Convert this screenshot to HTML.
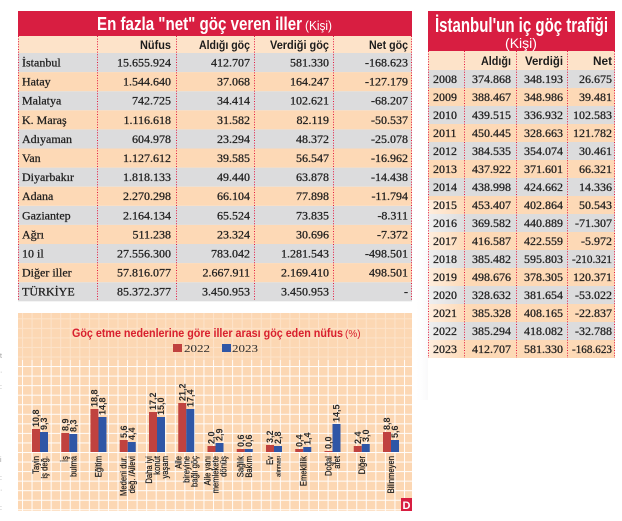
<!DOCTYPE html>
<html><head><meta charset="utf-8">
<style>
html,body{margin:0;padding:0;background:#fff;}
svg{display:block;}
.s{font-family:"Liberation Serif",serif;font-size:12px;fill:#1c1c1c;stroke:#1c1c1c;stroke-width:0.25px;}
.h{font-family:"Liberation Sans",sans-serif;font-weight:bold;font-size:12px;fill:#1c1c1c;}
.v{font-family:"Liberation Sans",sans-serif;font-weight:bold;font-size:9px;fill:#2a2a2a;}
.c{font-family:"Liberation Sans",sans-serif;font-size:9px;fill:#1a1a1a;stroke:#1a1a1a;stroke-width:0.2px;}
</style></head>
<body>
<svg width="622" height="521" viewBox="0 0 622 521" xmlns="http://www.w3.org/2000/svg">
<defs>
<pattern id="g" patternUnits="userSpaceOnUse" x="22" y="452" width="9.55" height="9.55">
<rect x="0" y="0" width="9.55" height="1" fill="#fff"/>
<rect x="0" y="0" width="1" height="9.55" fill="#fff"/>
</pattern>
<linearGradient id="glare" x1="0" y1="0" x2="1" y2="0">
<stop offset="0" stop-color="#fff" stop-opacity="0.55"/>
<stop offset="1" stop-color="#fff" stop-opacity="0"/>
</linearGradient>
<linearGradient id="sh" x1="0" y1="0" x2="1" y2="0">
<stop offset="0" stop-color="#fff" stop-opacity="0"/>
<stop offset="1" stop-color="#e8e8ec" stop-opacity="1"/>
</linearGradient>
</defs>

<!-- ============ LEFT TABLE ============ -->
<rect x="18" y="11" width="394" height="25" fill="#d81e41"/>
<text x="97" y="30" font-family="Liberation Sans,sans-serif" font-weight="bold" font-size="18" fill="#fff" textLength="205" lengthAdjust="spacingAndGlyphs">En fazla "net" göç veren iller</text>
<text x="305" y="30" font-family="Liberation Sans,sans-serif" font-size="13" fill="#fff" textLength="27" lengthAdjust="spacingAndGlyphs">(Kişi)</text>

<rect x="18" y="36" width="394" height="17" fill="#fde3c9"/>
<g fill="#dcdcdd">
<rect x="18" y="53" width="394" height="19.1"/>
<rect x="18" y="91.2" width="394" height="19.1"/>
<rect x="18" y="129.4" width="394" height="19.1"/>
<rect x="18" y="167.6" width="394" height="19.1"/>
<rect x="18" y="205.8" width="394" height="19.1"/>
<rect x="18" y="244" width="394" height="19.1"/>
<rect x="18" y="282.2" width="394" height="19.1"/>
</g>
<g fill="#fdd9b6">
<rect x="18" y="72.1" width="394" height="19.1"/>
<rect x="18" y="110.3" width="394" height="19.1"/>
<rect x="18" y="148.5" width="394" height="19.1"/>
<rect x="18" y="186.7" width="394" height="19.1"/>
<rect x="18" y="224.9" width="394" height="19.1"/>
<rect x="18" y="263.1" width="394" height="19.1"/>
</g>

<g class="h" text-anchor="end">
<text x="171" y="49" textLength="31" lengthAdjust="spacingAndGlyphs">Nüfus</text>
<text x="250" y="49" textLength="51" lengthAdjust="spacingAndGlyphs">Aldığı göç</text>
<text x="329" y="49" textLength="59" lengthAdjust="spacingAndGlyphs">Verdiği göç</text>
<text x="408" y="49" textLength="39" lengthAdjust="spacingAndGlyphs">Net göç</text>
</g>

<g class="s">
<text x="22" y="66.5">İstanbul</text>
<text x="22" y="85.6">Hatay</text>
<text x="22" y="104.7">Malatya</text>
<text x="22" y="123.8">K. Maraş</text>
<text x="22" y="142.9">Adıyaman</text>
<text x="22" y="162">Van</text>
<text x="22" y="181.1">Diyarbakır</text>
<text x="22" y="200.2">Adana</text>
<text x="22" y="219.3">Gaziantep</text>
<text x="22" y="238.4">Ağrı</text>
<text x="22" y="257.5">10 il</text>
<text x="22" y="276.6">Diğer iller</text>
<text x="22" y="295.7">TÜRKİYE</text>
</g>
<g class="s" text-anchor="end">
<text x="171" y="66.5">15.655.924</text><text x="250" y="66.5">412.707</text><text x="329" y="66.5">581.330</text><text x="408" y="66.5">-168.623</text>
<text x="171" y="85.6">1.544.640</text><text x="250" y="85.6">37.068</text><text x="329" y="85.6">164.247</text><text x="408" y="85.6">-127.179</text>
<text x="171" y="104.7">742.725</text><text x="250" y="104.7">34.414</text><text x="329" y="104.7">102.621</text><text x="408" y="104.7">-68.207</text>
<text x="171" y="123.8">1.116.618</text><text x="250" y="123.8">31.582</text><text x="329" y="123.8">82.119</text><text x="408" y="123.8">-50.537</text>
<text x="171" y="142.9">604.978</text><text x="250" y="142.9">23.294</text><text x="329" y="142.9">48.372</text><text x="408" y="142.9">-25.078</text>
<text x="171" y="162">1.127.612</text><text x="250" y="162">39.585</text><text x="329" y="162">56.547</text><text x="408" y="162">-16.962</text>
<text x="171" y="181.1">1.818.133</text><text x="250" y="181.1">49.440</text><text x="329" y="181.1">63.878</text><text x="408" y="181.1">-14.438</text>
<text x="171" y="200.2">2.270.298</text><text x="250" y="200.2">66.104</text><text x="329" y="200.2">77.898</text><text x="408" y="200.2">-11.794</text>
<text x="171" y="219.3">2.164.134</text><text x="250" y="219.3">65.524</text><text x="329" y="219.3">73.835</text><text x="408" y="219.3">-8.311</text>
<text x="171" y="238.4">511.238</text><text x="250" y="238.4">23.324</text><text x="329" y="238.4">30.696</text><text x="408" y="238.4">-7.372</text>
<text x="171" y="257.5">27.556.300</text><text x="250" y="257.5">783.042</text><text x="329" y="257.5">1.281.543</text><text x="408" y="257.5">-498.501</text>
<text x="171" y="276.6">57.816.077</text><text x="250" y="276.6">2.667.911</text><text x="329" y="276.6">2.169.410</text><text x="408" y="276.6">498.501</text>
<text x="171" y="295.7">85.372.377</text><text x="250" y="295.7">3.450.953</text><text x="329" y="295.7">3.450.953</text><text x="408" y="295.7">-</text>
</g>
<g stroke="#e3173e" stroke-width="1" stroke-dasharray="1 1.6">
<line x1="18.5" y1="36" x2="18.5" y2="301"/>
<line x1="97.5" y1="36" x2="97.5" y2="301"/>
<line x1="176.5" y1="36" x2="176.5" y2="301"/>
<line x1="254.5" y1="36" x2="254.5" y2="301"/>
<line x1="333.5" y1="36" x2="333.5" y2="301"/>
<line x1="411.5" y1="36" x2="411.5" y2="301"/>
</g>

<!-- ============ RIGHT TABLE ============ -->
<rect x="414" y="250" width="14" height="150" fill="url(#sh)" opacity="0.25"/>
<rect x="428" y="11" width="187" height="40" fill="#d81e41"/>
<text x="435" y="32" font-family="Liberation Sans,sans-serif" font-weight="bold" font-size="20" fill="#fff" textLength="173" lengthAdjust="spacingAndGlyphs">İstanbul'un iç göç trafiği</text>
<text x="521" y="48" text-anchor="middle" font-family="Liberation Sans,sans-serif" font-size="14" fill="#fff">(Kişi)</text>
<rect x="428" y="51" width="187" height="19" fill="#fde3c9"/>
<g fill="#dcdcdd">
<rect x="428" y="70" width="187" height="18"/>
<rect x="428" y="106" width="187" height="18"/>
<rect x="428" y="142" width="187" height="18"/>
<rect x="428" y="178" width="187" height="18"/>
<rect x="428" y="214" width="187" height="18"/>
<rect x="428" y="250" width="187" height="18"/>
<rect x="428" y="286" width="187" height="18"/>
<rect x="428" y="322" width="187" height="18"/>
</g>
<g fill="#fdd9b6">
<rect x="428" y="88" width="187" height="18"/>
<rect x="428" y="124" width="187" height="18"/>
<rect x="428" y="160" width="187" height="18"/>
<rect x="428" y="196" width="187" height="18"/>
<rect x="428" y="232" width="187" height="18"/>
<rect x="428" y="268" width="187" height="18"/>
<rect x="428" y="304" width="187" height="18"/>
<rect x="428" y="340" width="187" height="18"/>
</g>
<rect x="428" y="200" width="40" height="158" fill="url(#glare)"/>
<g class="h" text-anchor="end">
<text x="511" y="65" textLength="30" lengthAdjust="spacingAndGlyphs">Aldığı</text>
<text x="563" y="65" textLength="38" lengthAdjust="spacingAndGlyphs">Verdiği</text>
<text x="612" y="65" textLength="19" lengthAdjust="spacingAndGlyphs">Net</text>
</g>
<g class="s">
<text x="433" y="83">2008</text>
<text x="433" y="101">2009</text>
<text x="433" y="119">2010</text>
<text x="433" y="137">2011</text>
<text x="433" y="155">2012</text>
<text x="433" y="173">2013</text>
<text x="433" y="191">2014</text>
<text x="433" y="209">2015</text>
<text x="433" y="227">2016</text>
<text x="433" y="245">2017</text>
<text x="433" y="263">2018</text>
<text x="433" y="281">2019</text>
<text x="433" y="299">2020</text>
<text x="433" y="317">2021</text>
<text x="433" y="335">2022</text>
<text x="433" y="353">2023</text>
</g>
<g class="s" text-anchor="end">
<text x="511" y="83">374.868</text><text x="563" y="83">348.193</text><text x="612" y="83">26.675</text>
<text x="511" y="101">388.467</text><text x="563" y="101">348.986</text><text x="612" y="101">39.481</text>
<text x="511" y="119">439.515</text><text x="563" y="119">336.932</text><text x="612" y="119">102.583</text>
<text x="511" y="137">450.445</text><text x="563" y="137">328.663</text><text x="612" y="137">121.782</text>
<text x="511" y="155">384.535</text><text x="563" y="155">354.074</text><text x="612" y="155">30.461</text>
<text x="511" y="173">437.922</text><text x="563" y="173">371.601</text><text x="612" y="173">66.321</text>
<text x="511" y="191">438.998</text><text x="563" y="191">424.662</text><text x="612" y="191">14.336</text>
<text x="511" y="209">453.407</text><text x="563" y="209">402.864</text><text x="612" y="209">50.543</text>
<text x="511" y="227">369.582</text><text x="563" y="227">440.889</text><text x="612" y="227">-71.307</text>
<text x="511" y="245">416.587</text><text x="563" y="245">422.559</text><text x="612" y="245">-5.972</text>
<text x="511" y="263">385.482</text><text x="563" y="263">595.803</text><text x="612" y="263" textLength="40" lengthAdjust="spacingAndGlyphs">-210.321</text>
<text x="511" y="281">498.676</text><text x="563" y="281">378.305</text><text x="612" y="281">120.371</text>
<text x="511" y="299">328.632</text><text x="563" y="299">381.654</text><text x="612" y="299">-53.022</text>
<text x="511" y="317">385.328</text><text x="563" y="317">408.165</text><text x="612" y="317">-22.837</text>
<text x="511" y="335">385.294</text><text x="563" y="335">418.082</text><text x="612" y="335">-32.788</text>
<text x="511" y="353">412.707</text><text x="563" y="353">581.330</text><text x="612" y="353" textLength="40" lengthAdjust="spacingAndGlyphs">-168.623</text>
</g>
<g stroke="#e3173e" stroke-width="1" stroke-dasharray="1 1.6">
<line x1="428.5" y1="51" x2="428.5" y2="358"/>
<line x1="464.5" y1="51" x2="464.5" y2="358"/>
<line x1="516.5" y1="51" x2="516.5" y2="358"/>
<line x1="567.5" y1="51" x2="567.5" y2="358"/>
<line x1="614.5" y1="51" x2="614.5" y2="358"/>
</g>

<!-- ============ CHART ============ -->
<rect x="18" y="313" width="394" height="198" fill="#fcd7b3"/>
<rect x="18" y="313" width="394" height="47" fill="url(#g)" opacity="0.3"/>
<rect x="18" y="360" width="394" height="151" fill="url(#g)" opacity="0.95"/>

<text x="72" y="337" font-family="Liberation Sans,sans-serif" font-weight="bold" font-size="11.5" fill="#d8202f" textLength="271" lengthAdjust="spacingAndGlyphs">Göç etme nedenlerine göre iller arası göç eden nüfus</text>
<text x="345" y="337" font-family="Liberation Sans,sans-serif" font-size="10" fill="#d8202f">(%)</text>

<rect x="173" y="344" width="9" height="8" fill="#c0423f"/>
<text x="184" y="352" font-family="Liberation Serif,serif" font-size="11" fill="#2a2a2a" textLength="26" lengthAdjust="spacingAndGlyphs">2022</text>
<rect x="222" y="344" width="9" height="8" fill="#2f56a6"/>
<text x="232" y="352" font-family="Liberation Serif,serif" font-size="11" fill="#2a2a2a" textLength="26" lengthAdjust="spacingAndGlyphs">2023</text>

<!-- bars -->
<g fill="#c0423f">
<rect x="32" y="429" width="8" height="23"/>
<rect x="61.25" y="433" width="8" height="19"/>
<rect x="90.5" y="409" width="8" height="43"/>
<rect x="119.75" y="440" width="8" height="12"/>
<rect x="149" y="412" width="8" height="40"/>
<rect x="178.25" y="403" width="8" height="49"/>
<rect x="207.5" y="446" width="8" height="6"/>
<rect x="236.75" y="449" width="8" height="3"/>
<rect x="266" y="445" width="8" height="7"/>
<rect x="295.25" y="449" width="8" height="3"/>
<rect x="324.5" y="451" width="8" height="1"/>
<rect x="353.75" y="446" width="8" height="6"/>
<rect x="383" y="432" width="8" height="20"/>
</g>
<g fill="#2f56a6">
<rect x="40" y="432" width="8" height="20"/>
<rect x="69.25" y="434" width="8" height="18"/>
<rect x="98.5" y="417" width="8" height="35"/>
<rect x="127.75" y="442" width="8" height="10"/>
<rect x="157" y="417" width="8" height="35"/>
<rect x="186.25" y="409" width="8" height="43"/>
<rect x="215.5" y="443" width="8" height="9"/>
<rect x="244.75" y="449" width="8" height="3"/>
<rect x="274" y="446" width="8" height="6"/>
<rect x="303.25" y="447" width="8" height="5"/>
<rect x="332.5" y="424" width="8" height="28"/>
<rect x="361.75" y="444" width="8" height="8"/>
<rect x="391" y="440" width="8" height="12"/>
</g>

<!-- value labels -->
<g class="v">
<text transform="translate(39,427) rotate(-90)">10,8</text>
<text transform="translate(47,430) rotate(-90)">9,3</text>
<text transform="translate(68.25,431) rotate(-90)">8,9</text>
<text transform="translate(76.25,432) rotate(-90)">8,3</text>
<text transform="translate(97.5,407) rotate(-90)">18,8</text>
<text transform="translate(105.5,415) rotate(-90)">14,8</text>
<text transform="translate(126.75,438) rotate(-90)">5,6</text>
<text transform="translate(134.75,440) rotate(-90)">4,4</text>
<text transform="translate(156,410) rotate(-90)">17,2</text>
<text transform="translate(164,415) rotate(-90)">15,0</text>
<text transform="translate(185.25,401) rotate(-90)">21,2</text>
<text transform="translate(193.25,407) rotate(-90)">17,4</text>
<text transform="translate(214.5,444) rotate(-90)">2,0</text>
<text transform="translate(222.5,441) rotate(-90)">2,9</text>
<text transform="translate(243.75,447) rotate(-90)">0,6</text>
<text transform="translate(251.75,447) rotate(-90)">0,6</text>
<text transform="translate(273,443) rotate(-90)">3,2</text>
<text transform="translate(281,444) rotate(-90)">2,8</text>
<text transform="translate(302.25,447) rotate(-90)">0,4</text>
<text transform="translate(310.25,445) rotate(-90)">1,4</text>
<text transform="translate(331.5,449) rotate(-90)">0,0</text>
<text transform="translate(339.5,422) rotate(-90)">14,5</text>
<text transform="translate(360.75,444) rotate(-90)">2,4</text>
<text transform="translate(368.75,442) rotate(-90)">3,0</text>
<text transform="translate(390,430) rotate(-90)">8,8</text>
<text transform="translate(398,438) rotate(-90)">5,6</text>
</g>

<!-- category labels -->
<g class="c" text-anchor="end">
<text transform="translate(38.75,456) rotate(-90) scale(0.85,1)">Tayin</text>
<text transform="translate(47.25,456) rotate(-90) scale(0.85,1)">iş değ.</text>
<text transform="translate(68,456) rotate(-90) scale(0.85,1)">İş</text>
<text transform="translate(76.5,456) rotate(-90) scale(0.85,1)">bulma</text>
<text transform="translate(101.5,456) rotate(-90) scale(0.85,1)">Eğitim</text>
<text transform="translate(126.5,456) rotate(-90) scale(0.85,1)">Medeni dur.</text>
<text transform="translate(135,456) rotate(-90) scale(0.85,1)">değ. /Ailevi</text>
<text transform="translate(152,456) rotate(-90) scale(0.85,1)">Daha iyi</text>
<text transform="translate(160,456) rotate(-90) scale(0.85,1)">konut</text>
<text transform="translate(168,456) rotate(-90) scale(0.85,1)">yaşam</text>
<text transform="translate(181.25,456) rotate(-90) scale(0.85,1)">Aile</text>
<text transform="translate(189.25,456) rotate(-90) scale(0.85,1)">bireyine</text>
<text transform="translate(197.25,456) rotate(-90) scale(0.85,1)">bağlı göç</text>
<text transform="translate(210.5,456) rotate(-90) scale(0.85,1)">Aile yanı</text>
<text transform="translate(218.5,456) rotate(-90) scale(0.85,1)">memlekete</text>
<text transform="translate(226.5,456) rotate(-90) scale(0.85,1)">dönüş</text>
<text transform="translate(243.5,456) rotate(-90) scale(0.85,1)">Sağlık</text>
<text transform="translate(252,456) rotate(-90) scale(0.85,1)">Bakım</text>
<text transform="translate(272.75,456) rotate(-90) scale(0.85,1)">Ev</text>
<text transform="translate(280.5,456) rotate(-90) scale(0.85,1)" font-size="6.5">alınması</text>
<text transform="translate(306.25,456) rotate(-90) scale(0.85,1)">Emeklilik</text>
<text transform="translate(331.25,456) rotate(-90) scale(0.85,1)">Doğal</text>
<text transform="translate(339.75,456) rotate(-90) scale(0.85,1)">afet</text>
<text transform="translate(364.75,456) rotate(-90) scale(0.85,1)">Diğer</text>
<text transform="translate(394,456) rotate(-90) scale(0.85,1)">Bilinmeyen</text>
</g>

<!-- D logo -->
<rect x="401" y="498" width="11" height="13" fill="#d81e41"/>
<text x="406.5" y="509" text-anchor="middle" font-family="Liberation Sans,sans-serif" font-weight="bold" font-size="11" fill="#fff">D</text>

<!-- left margin residue -->
<g font-family="Liberation Sans,sans-serif" font-size="7" fill="#9a9a9a">
<text x="0" y="358">t</text>
<text x="0" y="374">·</text>
<text x="0" y="389">:</text>
<text x="0" y="462">i</text>
<text x="0" y="480">:</text>
<text x="0" y="492">·</text>
<text x="0" y="510">:</text>
</g>
</svg>
</body></html>
